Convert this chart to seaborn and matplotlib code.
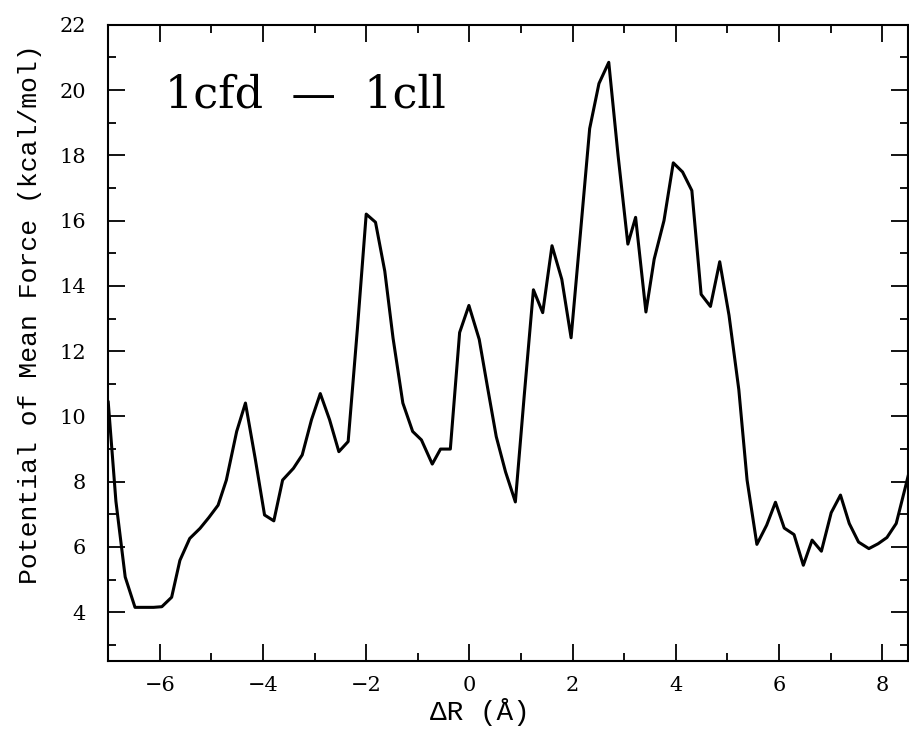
import matplotlib
matplotlib.use("Agg")
import matplotlib.pyplot as plt
import seaborn as sns
import pandas as pd
from matplotlib.ticker import MultipleLocator

# PMF curve
dR = [-7.0, -6.85, -6.67, -6.48, -6.3, -6.12, -5.96, -5.77, -5.61, -5.42,
      -5.22, -5.05, -4.87, -4.71, -4.51, -4.34, -4.15, -3.97, -3.79, -3.62,
      -3.41, -3.24, -3.06, -2.89, -2.71, -2.53, -2.35, -2.17, -2.0, -1.82,
      -1.64, -1.48, -1.29, -1.1, -0.93, -0.72, -0.56, -0.37, -0.19, -0.01,
      0.19, 0.35, 0.52, 0.7, 0.89, 1.06, 1.24, 1.42, 1.6, 1.79,
      1.97, 2.15, 2.33, 2.51, 2.7, 2.88, 3.07, 3.22, 3.42, 3.58,
      3.77, 3.95, 4.13, 4.31, 4.49, 4.67, 4.85, 5.03, 5.22, 5.38,
      5.57, 5.76, 5.93, 6.1, 6.29, 6.47, 6.64, 6.82, 7.01, 7.19,
      7.36, 7.54, 7.74, 7.92, 8.09, 8.27, 8.45, 8.63]
pmf = [10.46, 7.4, 5.08, 4.15, 4.15, 4.15, 4.17, 4.46, 5.59, 6.26,
       6.57, 6.9, 7.28, 8.05, 9.54, 10.41, 8.7, 6.98, 6.8, 8.05,
       8.41, 8.82, 9.9, 10.7, 9.9, 8.92, 9.23, 12.7, 16.2, 15.95,
       14.45, 12.4, 10.41, 9.54, 9.28, 8.54, 9.0, 9.0, 12.57, 13.4,
       12.36, 10.9, 9.38, 8.3, 7.38, 10.6, 13.88, 13.18, 15.23, 14.2,
       12.41, 15.6, 18.82, 20.2, 20.85, 18.0, 15.28, 16.1, 13.2, 14.82,
       16.0, 17.77, 17.49, 16.92, 13.74, 13.37, 14.74, 13.1, 10.82, 8.05,
       6.08, 6.67, 7.37, 6.58, 6.38, 5.44, 6.21, 5.87, 7.05, 7.59,
       6.72, 6.15, 5.95, 6.1, 6.29, 6.72, 7.85, 9.0]

df = pd.DataFrame({"dR": dR, "pmf": pmf})

sns.set_style("ticks")
plt.rcParams["font.family"] = ["DejaVu Serif", "DejaVu Sans"]
plt.rcParams["text.color"] = "black"
plt.rcParams["axes.labelcolor"] = "black"

fig = plt.figure(figsize=(9.09, 7.29), dpi=100)
ax = fig.add_axes([0.119, 0.093, 0.88, 0.873])

sns.lineplot(data=df, x="dR", y="pmf", sort=False, estimator=None,
             color="black", linewidth=2.2, ax=ax)

ax.set_xlim(-7, 8.5)
ax.set_ylim(2.5, 22)
ax.xaxis.set_major_locator(MultipleLocator(2))
ax.xaxis.set_minor_locator(MultipleLocator(1))
ax.yaxis.set_major_locator(MultipleLocator(2))
ax.yaxis.set_minor_locator(MultipleLocator(1))
ax.tick_params(which="both", direction="in", top=True, right=True,
               width=1.3, labelsize=15, colors="black")
ax.tick_params(which="major", length=12)
ax.tick_params(which="minor", length=6)
ax.tick_params(axis="y", which="major", pad=16)
ax.tick_params(axis="x", which="major", pad=11)
for s in ax.spines.values():
    s.set_linewidth(1.5)
    s.set_color("black")

lab_font = ["Liberation Mono", "DejaVu Sans Mono"]
ax.set_xlabel("ΔR (Å)", fontsize=20, family=lab_font)
ax.set_ylabel("Potential of Mean Force (kcal/mol)", fontsize=19,
              family=lab_font)
ax.xaxis.set_label_coords(0.465, -0.058)
ax.yaxis.set_label_coords(-0.083, 0.545)

ax.text(0.071, 0.89, "1cfd  —  1cll", transform=ax.transAxes,
        fontsize=32, va="center", ha="left", color="black")

fig.savefig("out.png", dpi=100)
